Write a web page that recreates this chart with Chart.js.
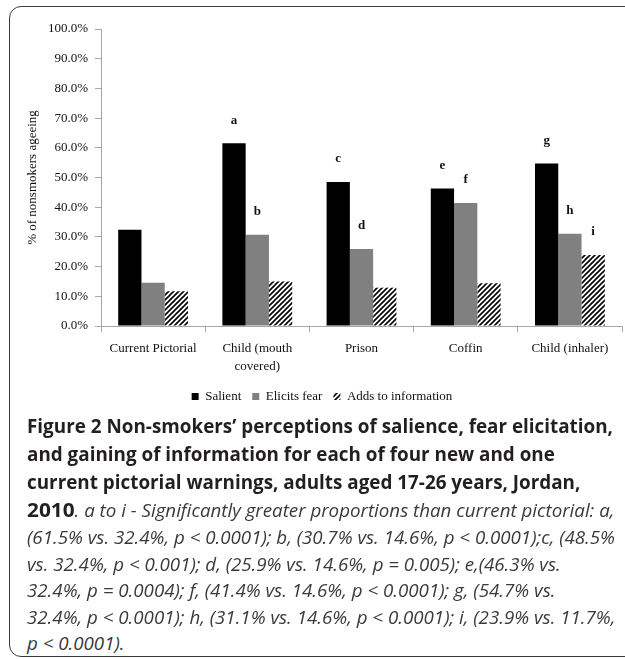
<!DOCTYPE html>
<html>
<head>
<meta charset="utf-8">
<script src="https://cdn.jsdelivr.net/npm/chart.js@4.4.0/dist/chart.umd.min.js"></script>
<style>
  body { margin: 0; width: 625px; height: 659px; position: relative; background: #fff; overflow: hidden; }
  #frame { position: absolute; left: 9px; top: 6px; width: 720px; height: 649px; border: 1.5px solid #3a3a3a; border-radius: 12px; }
  #chartBox { position: absolute; left: 0; top: 0; width: 625px; height: 420px; }
  .cap { position: absolute; left: 27px; height: 26px; line-height: 26px; white-space: nowrap; transform-origin: 0 50%; font-family: "Open Sans", "Noto Sans", sans-serif; }
  .title { font-weight: bold; font-size: 20px; color: #231f20; }
  .note { font-style: italic; font-size: 18px; color: #3a3a3a; }
  .note b { font-style: normal; font-size: 20px; color: #231f20; }
</style>
</head>
<body>
<div id="frame"></div>
<div id="chartBox"><canvas id="chart" width="625" height="420"></canvas></div>

<div class="cap title" style="top:413px">Figure 2 Non-smokers’ perceptions of salience, fear elicitation,</div>
<div class="cap title" style="top:441px">and gaining of information for each of four new and one</div>
<div class="cap title" style="top:469px">current pictorial warnings, adults aged 17-26 years, Jordan,</div>
<div class="cap note" style="top:497px"><b>2010</b>. a to i - Significantly greater proportions than current pictorial: a,</div>
<div class="cap note" style="top:524px">(61.5% vs. 32.4%, p &lt; 0.0001); b, (30.7% vs. 14.6%, p &lt; 0.0001);c, (48.5%</div>
<div class="cap note" style="top:551px">vs. 32.4%, p &lt; 0.001); d, (25.9% vs. 14.6%, p = 0.005); e,(46.3% vs.</div>
<div class="cap note" style="top:577px">32.4%, p = 0.0004); f, (41.4% vs. 14.6%, p &lt; 0.0001); g, (54.7% vs.</div>
<div class="cap note" style="top:604px">32.4%, p &lt; 0.0001); h, (31.1% vs. 14.6%, p &lt; 0.0001); i, (23.9% vs. 11.7%,</div>
<div class="cap note" style="top:630px">p &lt; 0.0001).</div>

<script>
var categories = ['Current Pictorial', ['Child (mouth', 'covered)'], 'Prison', 'Coffin', 'Child (inhaler)'];
var salient = [32.4, 61.5, 48.5, 46.3, 54.7];
var elicitsFear = [14.6, 30.7, 25.9, 41.4, 31.1];
var addsInfo = [11.7, 15.0, 12.9, 14.4, 23.9];

// significance letters: which series, which category, letter
var sigSeries = [0, 1, 0, 1, 0, 1, 0, 1, 2];
var sigCategory = [1, 1, 2, 2, 3, 3, 4, 4, 4];
var sigLetter = ['a', 'b', 'c', 'd', 'e', 'f', 'g', 'h', 'i'];

var yTicks = [0, 10, 20, 30, 40, 50, 60, 70, 80, 90, 100];

function hatchPattern() {
    var c = document.createElement('canvas');
    c.width = 5;
    c.height = 5;
    var g = c.getContext('2d');
    g.fillStyle = '#fff';
    g.fillRect(0, 0, 5, 5);
    g.strokeStyle = '#000';
    g.lineWidth = 1.6;
    g.beginPath();
    g.moveTo(-1, 6); g.lineTo(6, -1);
    g.moveTo(-1, 1); g.lineTo(1, -1);
    g.moveTo(4, 6); g.lineTo(6, 4);
    g.stroke();
    return g.createPattern(c, 'repeat');
}

var letterPlugin = {
    id: 'sigLetters',
    afterDatasetsDraw: function(chart) {
        var ctx = chart.ctx;
        ctx.save();
        ctx.font = 'bold 13px "Liberation Serif"';
        ctx.fillStyle = '#111';
        ctx.textAlign = 'center';
        ctx.textBaseline = 'middle';
        for (var i = 0; i < sigLetter.length; i++) {
            var bar = chart.getDatasetMeta(sigSeries[i]).data[sigCategory[i]];
            ctx.fillText(sigLetter[i], bar.x, bar.y - 23);
        }
        ctx.restore();
    }
};

var axisGray = '#a6a6a6';
var serif = '"Liberation Serif", "Times New Roman", serif';

var ctx = document.getElementById('chart').getContext('2d');
var chart = new Chart(ctx, {
    type: 'bar',
    data: {
        labels: categories,
        datasets: [
            { label: 'Salient', data: salient, backgroundColor: '#000' },
            { label: 'Elicits fear', data: elicitsFear, backgroundColor: '#808080' },
            { label: 'Adds to information', data: addsInfo, backgroundColor: hatchPattern() }
        ]
    },
    options: {
        responsive: false,
        animation: false,
        layout: { padding: { top: 29, right: 3, bottom: 7, left: 22 } },
        datasets: { bar: { barPercentage: 1, categoryPercentage: 0.67, borderWidth: 0 } },
        plugins: {
            tooltip: { enabled: false },
            legend: {
                position: 'bottom',
                labels: {
                    usePointStyle: true,
                    pointStyle: 'rect',
                    boxWidth: 7,
                    boxHeight: 7,
                    padding: 11,
                    color: '#111',
                    font: { family: serif, size: 13 }
                }
            }
        },
        scales: {
            x: {
                grid: { display: true, drawOnChartArea: false, offset: true, tickLength: 6, color: axisGray },
                border: { color: axisGray },
                ticks: { color: '#111', padding: 8, maxRotation: 0, font: { family: serif, size: 13, lineHeight: 1.35 } },
                afterFit: function(scale) { scale.height = 53; }
            },
            y: {
                min: 0,
                max: 100,
                afterBuildTicks: function(scale) { scale.ticks = yTicks.map(function(v) { return { value: v }; }); },
                grid: { display: true, drawOnChartArea: false, tickLength: 6, color: axisGray },
                border: { color: axisGray },
                ticks: {
                    color: '#111',
                    padding: 7,
                    font: { family: serif, size: 13 },
                    callback: function(v) { return v.toFixed(1) + '%'; }
                },
                title: {
                    display: true,
                    text: '% of nonsmokers ageeing',
                    color: '#111',
                    padding: { top: 3, bottom: 0 },
                    font: { family: serif, size: 13 }
                },
                afterFit: function(scale) { scale.width = 79; }
            }
        }
    },
    plugins: [letterPlugin]
});

// squeeze caption lines horizontally to the printed width
var caps = document.querySelectorAll('.cap');
var titleW = caps[0].getBoundingClientRect().width;
var noteW = caps[4].getBoundingClientRect().width;
for (var i = 0; i < caps.length; i++) {
    var s = caps[i].classList.contains('title') ? 586 / titleW : 588 / noteW;
    caps[i].style.transform = 'scaleX(' + s + ')';
}
</script>
</body>
</html>
